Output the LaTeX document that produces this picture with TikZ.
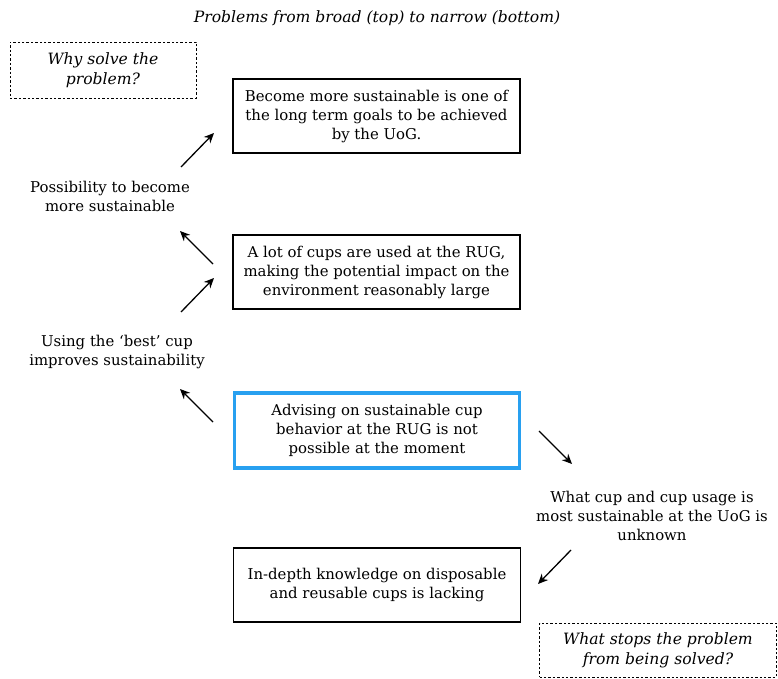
\documentclass[tikz,border=0pt]{standalone}
\usepackage{fontspec}
\setmainfont{DejaVu Serif}
\usetikzlibrary{arrows.meta}
\definecolor{hlblue}{RGB}{40,160,240}
\tikzset{
  txt/.style={font=\fontsize{14.9pt}{19pt}\selectfont, align=center, inner sep=0pt},
  note/.style={txt, font=\fontsize{15.6pt}{20pt}\selectfont\itshape},
  probbox/.style={draw=black, line width=1.4pt, minimum width=287pt, minimum height=74pt, txt},
  keybox/.style={draw=hlblue, line width=3.6pt, minimum width=285pt, minimum height=75pt, txt},
  qbox/.style={draw=black, dash pattern=on 2.4pt off 2pt, line width=0.9pt, note},
  link/.style={line width=1.3pt, -{Stealth[length=10pt,width=9pt]}}
}
\begin{document}
\begin{tikzpicture}[x=1pt,y=-1pt]
\useasboundingbox (0,0) rectangle (778,679);

% heading
\node[note] (title) at (377,18) {Problems from broad (top) to narrow (bottom)};

% guiding questions
\node[qbox, minimum width=186pt, minimum height=56pt] (why) at (103,70) {Why solve the\\problem?};
\node[qbox, minimum width=237pt, minimum height=54pt] (what) at (658,650) {What stops the problem\\from being solved?};

% problem boxes
\node[probbox] (goal) at (376.5,116) {Become more sustainable is one of\\the long term goals to be achieved\\by the UoG.};
\node[probbox] (cups) at (376.5,272) {A lot of cups are used at the RUG,\\making the potential impact on the\\environment reasonably large};
\node[keybox] (advise) at (377,430.5) {Advising on sustainable cup\\behavior at the RUG is not\\possible at the moment};
\node[probbox] (know) at (377,585) {In-depth knowledge on disposable\\and reusable cups is lacking};

% reasons in between
\node[txt] (possib) at (110,196.5) {Possibility to become\\more sustainable};
\node[txt] (best) at (117,351.5) {Using the `best' cup\\improves sustainability};
\node[txt] (unknown) at (652,516) {What cup and cup usage is\\most sustainable at the UoG is\\unknown};

% arrow ends
\coordinate (a1s) at (181,167); \coordinate (a1e) at (214,133);
\coordinate (a2s) at (213,264); \coordinate (a2e) at (180,231);
\coordinate (a3s) at (181,312); \coordinate (a3e) at (214,278);
\coordinate (a4s) at (213,422); \coordinate (a4e) at (180,389);
\coordinate (a5s) at (539,431); \coordinate (a5e) at (572,464);
\coordinate (a6s) at (571,550); \coordinate (a6e) at (538,584);

\draw[link] (a1s) -- (a1e);
\draw[link] (a2s) -- (a2e);
\draw[link] (a3s) -- (a3e);
\draw[link] (a4s) -- (a4e);
\draw[link] (a5s) -- (a5e);
\draw[link] (a6s) -- (a6e);
\end{tikzpicture}
\end{document}
